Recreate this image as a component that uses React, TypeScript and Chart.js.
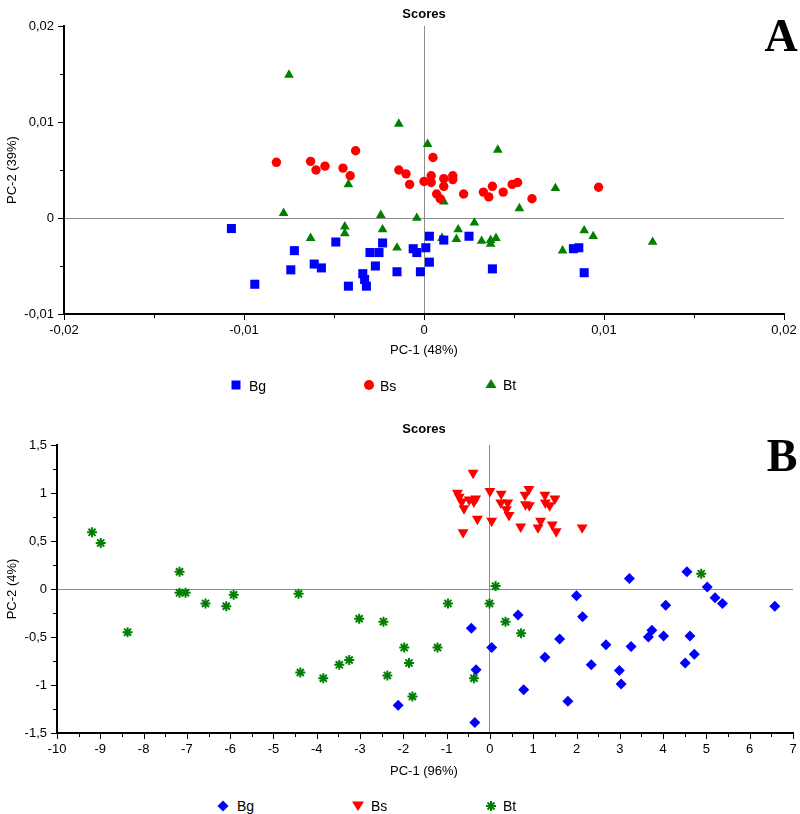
import React, { useEffect, useRef } from 'react';
import { Chart, registerables } from 'chart.js';

Chart.register(...registerables);

const FONT = "'Liberation Sans', Arial, sans-serif";
const NARROW = "'Liberation Sans Narrow', 'Liberation Sans', Arial, sans-serif";

// ---------- Panel A (PC-1 48% / PC-2 39%) ----------
const bgA_x = [-0.0107, -0.0094, -0.0072, -0.0074, -0.0061, -0.0057, -0.0049, -0.0042, -0.0034, -0.0033, -0.0032, -0.0030, -0.0025, -0.0023, -0.0027, -0.0015, -0.0006, -0.0004, 0.0001, 0.0003, 0.0003, -0.0002, 0.0011, 0.0025, 0.0038, 0.0083, 0.0086, 0.0089];
const bgA_y = [-0.0011, -0.0069, -0.0034, -0.0054, -0.0048, -0.0052, -0.0025, -0.0071, -0.0058, -0.0064, -0.0071, -0.0036, -0.0036, -0.0026, -0.0050, -0.0056, -0.0032, -0.0036, -0.0031, -0.0019, -0.0046, -0.0056, -0.0023, -0.0019, -0.0053, -0.0032, -0.0031, -0.0057];

const bsA_x = [-0.0082, -0.0063, -0.0060, -0.0055, -0.0045, -0.0041, -0.0038, -0.0014, -0.0010, -0.0008, 0.0000, 0.0004, 0.0005, 0.0011, 0.0016, 0.0016, 0.0011, 0.0007, 0.0009, 0.0022, 0.0033, 0.0036, 0.0038, 0.0044, 0.0049, 0.0052, 0.0060, 0.0097, 0.0004];
const bsA_y = [0.0058, 0.0059, 0.0050, 0.0054, 0.0052, 0.0044, 0.0070, 0.0050, 0.0046, 0.0035, 0.0038, 0.0044, 0.0063, 0.0041, 0.0044, 0.0040, 0.0033, 0.0025, 0.0020, 0.0025, 0.0027, 0.0022, 0.0033, 0.0027, 0.0035, 0.0037, 0.0020, 0.0032, 0.0037];

const btA_x = [-0.0075, -0.0014, 0.0002, 0.0041, -0.0042, 0.0073, -0.0078, 0.0011, 0.0053, -0.0024, -0.0004, -0.0063, -0.0044, -0.0044, -0.0023, -0.0015, 0.0010, 0.0019, 0.0018, 0.0028, 0.0032, 0.0037, 0.0040, 0.0037, 0.0089, 0.0094, 0.0077, 0.0127];
const btA_y = [0.0149, 0.0098, 0.0077, 0.0071, 0.0035, 0.0031, 0.0005, 0.0017, 0.0010, 0.0003, 0.0000, -0.0021, -0.0009, -0.0016, -0.0012, -0.0031, -0.0021, -0.0012, -0.0022, -0.0005, -0.0024, -0.0023, -0.0021, -0.0027, -0.0013, -0.0019, -0.0034, -0.0025];

const xTicksA = [-0.02, -0.01, 0, 0.01, 0.02];
const xLabelsA = ['-0,02', '-0,01', '0', '0,01', '0,02'];
const yTicksA = [-0.01, 0, 0.01, 0.02];
const yLabelsA = ['-0,01', '0', '0,01', '0,02'];

// ---------- Panel B (PC-1 96% / PC-2 4%) ----------
const bgB_x = [3.22, 4.55, 5.02, 5.20, 5.37, 6.58, 2.00, 4.06, 0.65, 2.14, -0.43, 3.74, 3.66, 4.01, 4.62, 1.61, 0.04, 2.68, 3.26, 4.72, 1.27, 4.51, 2.34, -0.32, 2.99, 3.03, 0.78, 1.80, -0.35, -2.12];
const bgB_y = [0.11, 0.18, 0.02, -0.09, -0.15, -0.18, -0.07, -0.17, -0.27, -0.29, -0.41, -0.43, -0.50, -0.49, -0.49, -0.52, -0.61, -0.58, -0.60, -0.68, -0.71, -0.77, -0.79, -0.84, -0.85, -0.99, -1.05, -1.17, -1.39, -1.21];

const bsB_x = [-0.39, -0.75, -0.71, -0.65, -0.60, -0.48, -0.33, -0.37, 0.00, 0.26, 0.25, 0.41, 0.38, 0.44, 0.90, 0.81, 0.82, 0.91, 1.27, 1.28, 1.38, 1.50, -0.29, 0.04, -0.62, 0.71, 1.11, 1.17, 1.44, 1.53, 2.13];
const bsB_y = [1.21, 1.00, 0.96, 0.91, 0.84, 0.93, 0.94, 0.91, 1.02, 0.99, 0.90, 0.90, 0.83, 0.77, 1.04, 0.98, 0.88, 0.87, 0.98, 0.90, 0.87, 0.94, 0.73, 0.71, 0.59, 0.65, 0.64, 0.71, 0.67, 0.60, 0.64];

const btB_x = [-9.19, -8.99, -7.17, -7.17, -7.03, -6.57, -6.09, -5.92, -4.42, -8.37, -4.38, -3.85, -3.48, -3.25, -3.02, -2.46, -2.37, -1.98, -1.87, -1.79, -1.21, -0.97, -0.01, 0.13, 0.36, 0.72, -0.37, 4.88];
const btB_y = [0.59, 0.48, 0.18, -0.04, -0.04, -0.15, -0.18, -0.06, -0.05, -0.45, -0.87, -0.93, -0.79, -0.74, -0.31, -0.34, -0.90, -0.61, -0.77, -1.12, -0.61, -0.15, -0.15, 0.03, -0.34, -0.46, -0.93, 0.16];

const xTicksB = [-10, -9, -8, -7, -6, -5, -4, -3, -2, -1, 0, 1, 2, 3, 4, 5, 6, 7];
const xLabelsB = ['-10', '-9', '-8', '-7', '-6', '-5', '-4', '-3', '-2', '-1', '0', '1', '2', '3', '4', '5', '6', '7'];
const yTicksB = [-1.5, -1, -0.5, 0, 0.5, 1, 1.5];
const yLabelsB = ['-1,5', '-1', '-0,5', '0', '0,5', '1', '1,5'];

const seriesNames = ['Bg', 'Bs', 'Bt'];
const BLUE = '#0000ff';
const RED = '#ff0000';
const GREEN = '#008000';

function pts(xs: number[], ys: number[]) {
  return xs.map((x, i) => ({ x, y: ys[i] }));
}

const axisTicksPlugin = {
  id: 'axisTicks',
  afterDraw(chart: any) {
    const ctx = chart.ctx;
    const xs = chart.scales.x;
    const ys = chart.scales.y;
    ctx.save();
    ctx.strokeStyle = '#000';
    ctx.lineWidth = 1;
    const draw = (scale: any, horizontal: boolean) => {
      const vals = scale.ticks.map((t: any) => t.value);
      const all: [number, number][] = [];
      vals.forEach((v: number, i: number) => {
        all.push([v, 5]);
        if (i < vals.length - 1) all.push([(v + vals[i + 1]) / 2, 3]);
      });
      all.forEach(([v, len]) => {
        const p = Math.round(scale.getPixelForValue(v)) + 0.5;
        ctx.beginPath();
        if (horizontal) {
          ctx.moveTo(p, chart.chartArea.bottom);
          ctx.lineTo(p, chart.chartArea.bottom + len + 1);
        } else {
          ctx.moveTo(chart.chartArea.left, p);
          ctx.lineTo(chart.chartArea.left - len - 1, p);
        }
        ctx.stroke();
      });
    };
    draw(xs, true);
    draw(ys, false);
    ctx.restore();
  },
};

function labelFor(ticks: number[], labels: string[], v: number) {
  const i = ticks.findIndex((t) => Math.abs(t - v) < 1e-9);
  return i >= 0 ? labels[i] : '';
}

function makeConfig(opts: any) {
  const { datasets, xTicks, xLabels, yTicks, yLabels, padding, yWidth, xHeight } = opts;
  const gridColor = (c: any) => (c.tick && Math.abs(c.tick.value) < 1e-12 ? '#8c8c8c' : 'rgba(0,0,0,0)');
  return {
    type: 'scatter',
    data: { datasets },
    options: {
      responsive: false,
      animation: false,
      layout: { padding },
      plugins: { legend: { display: false }, tooltip: { enabled: false }, title: { display: false } },
      scales: {
        x: {
          type: 'linear',
          min: xTicks[0],
          max: xTicks[xTicks.length - 1],
          afterFit: (s: any) => {
            s.height = xHeight;
            s.paddingLeft = 0;
            s.paddingRight = 0;
          },
          afterBuildTicks: (s: any) => { s.ticks = xTicks.map((v: number) => ({ value: v })); },
          ticks: {
            callback: (v: number) => labelFor(xTicks, xLabels, v),
            font: { family: FONT, size: 13 },
            color: '#000',
            padding: 9,
            maxRotation: 0,
            autoSkip: false,
          },
          grid: { drawTicks: false, color: gridColor, lineWidth: 1 },
          border: { display: true, color: '#000', width: 2 },
        },
        y: {
          type: 'linear',
          min: yTicks[0],
          max: yTicks[yTicks.length - 1],
          afterFit: (s: any) => {
            s.width = yWidth;
            s.paddingTop = 0;
            s.paddingBottom = 0;
          },
          afterBuildTicks: (s: any) => { s.ticks = yTicks.map((v: number) => ({ value: v })); },
          ticks: {
            callback: (v: number) => labelFor(yTicks, yLabels, v),
            font: { family: FONT, size: 13 },
            color: '#000',
            padding: 10,
            autoSkip: false,
          },
          grid: { drawTicks: false, color: gridColor, lineWidth: 1 },
          border: { display: true, color: '#000', width: 2 },
        },
      },
    },
    plugins: [axisTicksPlugin],
  };
}

function ScatterPanel(props: any) {
  const ref = useRef<HTMLCanvasElement | null>(null);
  useEffect(() => {
    if (!ref.current) return;
    const chart = new Chart(ref.current, makeConfig(props.config) as any);
    return () => chart.destroy();
  }, []);
  return (
    <canvas
      ref={ref}
      width={800}
      height={props.height}
      style={{ position: 'absolute', left: 0, top: props.top, width: 800, height: props.height }}
    />
  );
}

function T(props: any) {
  const { x, y, children, style, rotate, align } = props;
  const tx = align === 'left' ? '0' : '-50%';
  return (
    <div
      style={{
        position: 'absolute',
        left: x,
        top: y,
        transform: `translate(${tx}, -50%)${rotate ? ' rotate(-90deg)' : ''}`,
        whiteSpace: 'nowrap',
        fontFamily: FONT,
        fontSize: 13,
        color: '#000',
        lineHeight: 1,
        ...style,
      }}
    >
      {children}
    </div>
  );
}

function Marker(props: any) {
  const { x, y, kind } = props;
  const s = 14;
  let shape: any = null;
  if (kind === 'square') shape = <rect x={2.5} y={2.5} width={9} height={9} fill={BLUE} />;
  if (kind === 'circle') shape = <circle cx={7} cy={7} r={5} fill={RED} />;
  if (kind === 'tri') shape = <polygon points="7,2 12.5,11 1.5,11" fill={GREEN} />;
  if (kind === 'diamond') shape = <polygon points="7,1.5 12.5,7 7,12.5 1.5,7" fill={BLUE} />;
  if (kind === 'itri') shape = <polygon points="1,2.5 13,2.5 7,12" fill={RED} />;
  if (kind === 'star')
    shape = (
      <g stroke={GREEN} strokeWidth={2}>
        <line x1={7} y1={2} x2={7} y2={12} />
        <line x1={2} y1={7} x2={12} y2={7} />
        <line x1={3.5} y1={3.5} x2={10.5} y2={10.5} />
        <line x1={10.5} y1={3.5} x2={3.5} y2={10.5} />
      </g>
    );
  return (
    <svg width={s} height={s} style={{ position: 'absolute', left: x - s / 2, top: y - s / 2 }}>
      {shape}
    </svg>
  );
}

export default function App() {
  const configA = {
    datasets: [
      { label: seriesNames[0], data: pts(bgA_x, bgA_y), showLine: false, pointStyle: 'rect', pointRadius: 6.4, pointBackgroundColor: BLUE, pointBorderColor: BLUE, pointBorderWidth: 0 },
      { label: seriesNames[1], data: pts(bsA_x, bsA_y), showLine: false, pointStyle: 'circle', pointRadius: 4.7, pointBackgroundColor: RED, pointBorderColor: RED, pointBorderWidth: 0 },
      { label: seriesNames[2], data: pts(btA_x, btA_y), showLine: false, pointStyle: 'triangle', pointRadius: 5.6, pointBackgroundColor: GREEN, pointBorderColor: GREEN, pointBorderWidth: 0 },
    ],
    xTicks: xTicksA, xLabels: xLabelsA, yTicks: yTicksA, yLabels: yLabelsA,
    padding: { top: 26, right: 16, left: 0, bottom: 0 },
    yWidth: 64,
    xHeight: 46,
  };
  const configB = {
    datasets: [
      { label: seriesNames[0], data: pts(bgB_x, bgB_y), showLine: false, pointStyle: 'rectRot', pointRadius: 5.5, pointBackgroundColor: BLUE, pointBorderColor: BLUE, pointBorderWidth: 0 },
      { label: seriesNames[1], data: pts(bsB_x, bsB_y), showLine: false, pointStyle: 'triangle', pointRotation: 180, pointRadius: 6.3, pointBackgroundColor: RED, pointBorderColor: RED, pointBorderWidth: 0 },
      { label: seriesNames[2], data: pts(btB_x, btB_y), showLine: false, pointStyle: 'star', pointRadius: 5, pointBackgroundColor: GREEN, pointBorderColor: GREEN, pointBorderWidth: 2 },
    ],
    xTicks: xTicksB, xLabels: xLabelsB, yTicks: yTicksB, yLabels: yLabelsB,
    padding: { top: 45, right: 2, left: 0, bottom: 0 },
    yWidth: 57,
    xHeight: 47,
  };

  return (
    <div style={{ position: 'absolute', left: 0, top: 0, width: 800, height: 814, background: '#fff', overflow: 'hidden' }}>
      <ScatterPanel config={configA} top={0} height={360} />
      <ScatterPanel config={configB} top={400} height={380} />

      {/* Panel A texts */}
      <T x={424} y={13} style={{ fontFamily: NARROW, fontWeight: 'bold', fontSize: 13 }}>Scores</T>
      <T x={781} y={36} style={{ fontFamily: "'Liberation Serif', 'Times New Roman', serif", fontWeight: 'bold', fontSize: 46 }}>A</T>
      <T x={11} y={170} rotate>PC-2 (39%)</T>
      <T x={424} y={349}>PC-1 (48%)</T>
      <Marker x={236} y={385} kind="square" />
      <T x={249} y={386} align="left" style={{ fontSize: 14 }}>{seriesNames[0]}</T>
      <Marker x={369} y={385} kind="circle" />
      <T x={380} y={386} align="left" style={{ fontSize: 14 }}>{seriesNames[1]}</T>
      <Marker x={491} y={384} kind="tri" />
      <T x={503} y={385} align="left" style={{ fontSize: 14 }}>{seriesNames[2]}</T>

      {/* Panel B texts */}
      <T x={424} y={428} style={{ fontFamily: NARROW, fontWeight: 'bold', fontSize: 13 }}>Scores</T>
      <T x={782} y={456} style={{ fontFamily: "'Liberation Serif', 'Times New Roman', serif", fontWeight: 'bold', fontSize: 46 }}>B</T>
      <T x={11} y={589} rotate>PC-2 (4%)</T>
      <T x={424} y={770}>PC-1 (96%)</T>
      <Marker x={223} y={806} kind="diamond" />
      <T x={237} y={806} align="left" style={{ fontSize: 14 }}>{seriesNames[0]}</T>
      <Marker x={358} y={806} kind="itri" />
      <T x={371} y={806} align="left" style={{ fontSize: 14 }}>{seriesNames[1]}</T>
      <Marker x={491} y={806} kind="star" />
      <T x={503} y={806} align="left" style={{ fontSize: 14 }}>{seriesNames[2]}</T>
    </div>
  );
}
